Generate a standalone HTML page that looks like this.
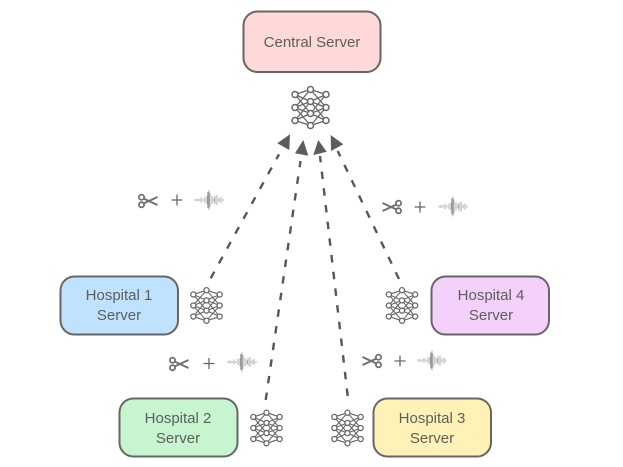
<!DOCTYPE html>
<html>
<head>
<meta charset="utf-8">
<style>
html,body{margin:0;padding:0;background:#fff;width:623px;height:467px;overflow:hidden}
svg{display:block}
text{font-family:"Liberation Sans",sans-serif;font-size:15px;fill:#5e5e5e;text-anchor:middle}
.box{stroke:#666;stroke-width:2}
.dash{stroke:#575757;stroke-width:2.400;fill:none}
</style>
</head>
<body>
<svg width="623" height="467" viewBox="0 0 623 467" xmlns="http://www.w3.org/2000/svg">
<defs>
<g id="net">
  <g stroke="#666" stroke-width="1.300" fill="none">
    <path d="M-15.500-13L0-18M-15.500-13L0-6M-15.500-13L0 6M-15.500 0L0-18M-15.500 0L0-6M-15.500 0L0 6M-15.500 0L0 18M-15.500 13L0-6M-15.500 13L0 6M-15.500 13L0 18"/>
    <path d="M15.500-13L0-18M15.500-13L0-6M15.500-13L0 6M15.500 0L0-18M15.500 0L0-6M15.500 0L0 6M15.500 0L0 18M15.500 13L0-6M15.500 13L0 6M15.500 13L0 18"/>
  </g>
  <g fill="#fff" stroke="#666" stroke-width="1.500">
    <circle cx="-15.500" cy="-13" r="3"/><circle cx="-15.500" cy="0" r="3"/><circle cx="-15.500" cy="13" r="3"/>
    <circle cx="0" cy="-18" r="3"/><circle cx="0" cy="-6" r="3"/><circle cx="0" cy="6" r="3"/><circle cx="0" cy="18" r="3"/>
    <circle cx="15.500" cy="-13" r="3"/><circle cx="15.500" cy="0" r="3"/><circle cx="15.500" cy="13" r="3"/>
  </g>
</g>
<g id="sc" fill="none" stroke="#707070">
  <circle cx="-6.500" cy="-3.800" r="2.600" stroke-width="1.800"/>
  <circle cx="-6.500" cy="3.800" r="2.600" stroke-width="1.800"/>
  <path d="M-4.500-2.500L9.500 4M-4.500 2.500L9.500-4" stroke-width="2"/>
</g>
<g id="plus" stroke="#666" stroke-width="1.300">
  <path d="M-5.500 0H5.500M0-5.500V5.500"/>
</g>
<g id="wave" stroke="#ababab" stroke-width="1" fill="none">
  <path d="M-14-1V1M-12-1.500V1.500M-10-1V1M-8-2.500V2.500M-6-1V1M-4-3V3M-2-4V4M-1-6V6M0-10V10M1-7V7M3-4V4M5-2V2M6-4V4M8-5V5M10-2V2M12-3V3M14-1V1"/>
  <path d="M-1-8V8" stroke="#8e8e8e" stroke-width="1.300"/>
</g>
</defs>

<rect class="box" x="243.500" y="11.500" width="137" height="60.500" rx="14" fill="#ffd8d8"/>
<text x="312" y="47">Central Server</text>

<rect class="box" x="60.500" y="276.500" width="117.500" height="58" rx="14" fill="#bfe2ff"/>
<text x="119" y="300">Hospital 1</text><text x="119" y="320">Server</text>

<rect class="box" x="119.500" y="398.500" width="118" height="58" rx="14" fill="#c6f5cf"/>
<text x="178" y="423">Hospital 2</text><text x="178" y="443">Server</text>

<rect class="box" x="373.500" y="398.500" width="117.500" height="58" rx="14" fill="#fff2b6"/>
<text x="432" y="423">Hospital 3</text><text x="432" y="443">Server</text>

<rect class="box" x="431.500" y="276.500" width="117.500" height="58" rx="14" fill="#f3d1fa"/>
<text x="491" y="300">Hospital 4</text><text x="491" y="320">Server</text>

<use href="#net" transform="translate(310.500 107.500)"/>
<use href="#net" transform="translate(206.500 305.500) scale(.85)"/>
<use href="#net" transform="translate(266.500 428) scale(.85)"/>
<use href="#net" transform="translate(347.500 428) scale(.85)"/>
<use href="#net" transform="translate(402 305.500) scale(.85)"/>

<path class="dash" stroke-dasharray="7.500 9.500" d="M210.700 278.300L279 154.300"/>
<path class="dash" stroke-dasharray="7.500 9.300" d="M265.700 400L300.500 161"/>
<path class="dash" stroke-dasharray="7.500 9.300" d="M347.700 396L320 156"/>
<path class="dash" stroke-dasharray="7.500 9.500" d="M399 279L337.700 151"/>

<g fill="#5c5c5c">
  <polygon points="277.300,143.300 290,134.300 289.300,150"/>
  <polygon points="303.300,140 295,153.300 308.300,155.700"/>
  <polygon points="318.300,140 313.300,155 326.700,151.700"/>
  <polygon points="330.700,135 343.300,144.300 331,151"/>
</g>

<use href="#sc" transform="translate(148 201)"/>
<use href="#plus" transform="translate(177 200)"/>
<use href="#wave" transform="translate(209 200)"/>

<use href="#sc" transform="translate(179 364)"/>
<use href="#plus" transform="translate(209 363.500)"/>
<use href="#wave" transform="translate(242 362)"/>

<use href="#sc" transform="translate(372 361) scale(-1 1)"/>
<use href="#plus" transform="translate(400 361)"/>
<use href="#wave" transform="translate(432 360.500)"/>

<use href="#sc" transform="translate(392 207) scale(-1 1)"/>
<use href="#plus" transform="translate(420 207)"/>
<use href="#wave" transform="translate(453 206.500)"/>
</svg>
</body>
</html>
